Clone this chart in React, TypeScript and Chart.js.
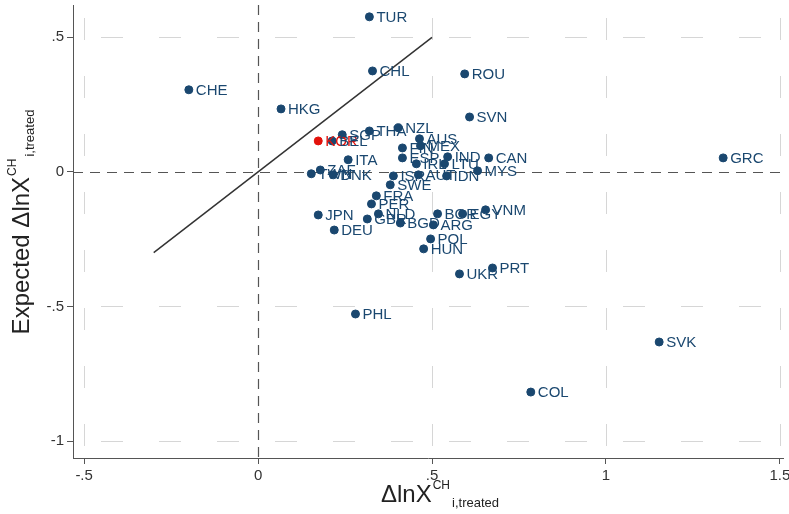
import { useEffect, useRef } from 'react';
import { Chart, registerables } from 'chart.js';

Chart.register(...registerables);

// Country codes with actual vs. expected change in log exports to China
const countries = [
  'TUR', 'CHL', 'ROU', 'CHE', 'HKG', 'SVN', 'THA', 'NZL', 'SGP', 'BEL',
  'ITA', 'ZAF', 'TWN', 'DNK', 'AUS', 'FIN', 'MEX', 'ESP', 'IRL', 'IND',
  'LTU', 'CAN', 'ISR', 'AUT', 'IDN', 'MYS', 'SWE', 'GRC', 'FRA', 'PER',
  'NLD', 'GBR', 'JPN', 'DEU', 'BGD', 'ARG', 'BGR', 'EGY', 'VNM', 'POL',
  'HUN', 'UKR', 'PRT', 'PHL', 'SVK', 'COL',
];
const actual = [
  0.320, 0.329, 0.594, -0.199, 0.066, 0.608, 0.320, 0.403, 0.242, 0.213,
  0.259, 0.179, 0.153, 0.216, 0.464, 0.415, 0.467, 0.415, 0.455, 0.545,
  0.536, 0.663, 0.389, 0.461, 0.542, 0.631, 0.380, 1.337, 0.340, 0.326,
  0.346, 0.314, 0.173, 0.219, 0.409, 0.504, 0.516, 0.588, 0.654, 0.496,
  0.476, 0.579, 0.674, 0.280, 1.153, 0.784,
];
const expected = [
  0.576, 0.375, 0.364, 0.305, 0.234, 0.204, 0.152, 0.164, 0.138, 0.115,
  0.045, 0.007, -0.007, -0.011, 0.123, 0.089, 0.097, 0.052, 0.030, 0.056,
  0.030, 0.052, -0.015, -0.011, -0.015, 0.004, -0.048, 0.052, -0.089, -0.119,
  -0.156, -0.175, -0.160, -0.216, -0.190, -0.197, -0.156, -0.156, -0.141, -0.249,
  -0.286, -0.379, -0.357, -0.528, -0.632, -0.818,
];

// Highlighted country
const treatedCountry = ['KOR'];
const treatedActual = [0.173];
const treatedExpected = [0.115];

// 45-degree reference segment
const diagonalRange = [-0.3, 0.5];

const xTicks = [-0.5, 0, 0.5, 1, 1.5];
const yTicks = [-1, -0.5, 0, 0.5];

const NAVY = '#1a476f';
const RED = '#e3120b';
const FONT = '"Liberation Sans", Arial, sans-serif';
const TITLE_SIZE = 24;
const SUP_SIZE = 12;
const SUB_SIZE = 13;

const fmt = (v: number) => {
  if (v === 0) return '0';
  const s = String(Math.abs(v)).replace(/^0\./, '.');
  return (v < 0 ? '-' : '') + s;
};

const gridPlugin = {
  id: 'stataGrid',
  beforeDatasetsDraw(chart: any) {
    const { ctx, chartArea, scales } = chart;
    const xs = scales.x;
    const ys = scales.y;
    ctx.save();
    ctx.lineWidth = 1;
    // light dotted grid
    ctx.strokeStyle = '#d6d6d6';
    ctx.setLineDash([22, 36]);
    xTicks.filter((v) => v !== 0).forEach((v) => {
      const px = Math.round(xs.getPixelForValue(v)) + 0.5;
      ctx.lineDashOffset = -12;
      ctx.beginPath();
      ctx.moveTo(px, chartArea.bottom);
      ctx.lineTo(px, chartArea.top);
      ctx.stroke();
    });
    yTicks.filter((v) => v !== 0).forEach((v) => {
      const py = Math.round(ys.getPixelForValue(v)) + 0.5;
      ctx.lineDashOffset = -28;
      ctx.beginPath();
      ctx.moveTo(chartArea.left, py);
      ctx.lineTo(chartArea.right, py);
      ctx.stroke();
    });
    // dashed zero lines
    ctx.strokeStyle = '#555';
    ctx.lineWidth = 1.2;
    ctx.setLineDash([10, 7]);
    ctx.lineDashOffset = 0;
    const x0 = Math.round(xs.getPixelForValue(0)) + 0.5;
    ctx.beginPath();
    ctx.moveTo(x0, chartArea.top);
    ctx.lineTo(x0, chartArea.bottom);
    ctx.stroke();
    const y0 = Math.round(ys.getPixelForValue(0)) + 0.5;
    ctx.beginPath();
    ctx.moveTo(chartArea.left, y0);
    ctx.lineTo(chartArea.right, y0);
    ctx.stroke();
    ctx.restore();
  },
};

const labelPlugin = {
  id: 'pointLabels',
  afterDatasetsDraw(chart: any) {
    const { ctx } = chart;
    ctx.save();
    ctx.font = `15px ${FONT}`;
    ctx.textBaseline = 'middle';
    ctx.textAlign = 'left';
    const draw = (dsIndex: number, names: string[], color: string) => {
      const meta = chart.getDatasetMeta(dsIndex);
      ctx.fillStyle = color;
      meta.data.forEach((el: any, i: number) => {
        ctx.fillText(names[i], el.x + 7, el.y + 1);
      });
    };
    draw(2, treatedCountry, RED);
    draw(1, countries, NAVY);
    ctx.restore();
  },
};

// widths of the pieces of "lead ΔlnX^CH_i,treated"
function measureTitle(ctx: CanvasRenderingContext2D, lead: string) {
  const main = `${lead}ΔlnX`;
  ctx.font = `${TITLE_SIZE}px ${FONT}`;
  const wMain = ctx.measureText(main).width;
  ctx.font = `${SUP_SIZE}px ${FONT}`;
  const wSup = ctx.measureText('CH').width;
  ctx.font = `${SUB_SIZE}px ${FONT}`;
  const wSub = ctx.measureText('i,treated').width;
  return { main, wMain, wSup, wSub, total: wMain + wSup + 3 + wSub };
}

const titlePlugin = {
  id: 'axisTitles',
  afterDraw(chart: any) {
    const { ctx } = chart;
    ctx.save();
    ctx.fillStyle = '#222';
    ctx.textBaseline = 'alphabetic';
    ctx.textAlign = 'left';

    const put = (lead: string) => {
      const m = measureTitle(ctx, lead);
      ctx.font = `${TITLE_SIZE}px ${FONT}`;
      ctx.fillText(m.main, 0, 0);
      ctx.font = `${SUP_SIZE}px ${FONT}`;
      ctx.fillText('CH', m.wMain + 1, -13);
      ctx.font = `${SUB_SIZE}px ${FONT}`;
      ctx.fillText('i,treated', m.wMain + m.wSup + 3, 5);
    };

    // x-axis title
    const mx = measureTitle(ctx, '');
    ctx.save();
    ctx.translate(440 - mx.total / 2, 502);
    put('');
    ctx.restore();

    // y-axis title
    const my = measureTitle(ctx, 'Expected ');
    ctx.save();
    ctx.translate(29, 222 + my.total / 2);
    ctx.rotate(-Math.PI / 2);
    put('Expected ');
    ctx.restore();

    ctx.restore();
  },
};

export default function App() {
  const canvasRef = useRef<HTMLCanvasElement | null>(null);

  useEffect(() => {
    document.body.style.margin = '0';
    const canvas = canvasRef.current;
    if (!canvas) return;

    const points = countries.map((_, i) => ({ x: actual[i], y: expected[i] }));
    const treated = treatedCountry.map((_, i) => ({ x: treatedActual[i], y: treatedExpected[i] }));

    const axisCommon = {
      border: { display: true, color: '#555', width: 1 },
      grid: { drawOnChartArea: false, drawTicks: true, tickLength: 6, color: '#555' },
      ticks: {
        color: '#333',
        font: { size: 15, family: FONT },
        padding: 3,
        autoSkip: false,
        maxRotation: 0,
        callback: (v: any) => fmt(Number(v)),
      },
    };

    const noPad = (s: any) => {
      s.paddingTop = 0;
      s.paddingBottom = 0;
      s.paddingLeft = 0;
      s.paddingRight = 0;
    };

    const chart = new Chart(canvas, {
      type: 'scatter',
      data: {
        datasets: [
          {
            type: 'line',
            data: diagonalRange.map((v) => ({ x: v, y: v })),
            borderColor: '#333',
            borderWidth: 1.5,
            pointRadius: 0,
            showLine: true,
            order: 3,
          } as any,
          {
            data: points,
            backgroundColor: NAVY,
            borderColor: NAVY,
            pointRadius: 4,
            order: 2,
          },
          {
            data: treated,
            backgroundColor: RED,
            borderColor: RED,
            pointRadius: 4,
            order: 1,
          },
        ],
      },
      options: {
        animation: false,
        responsive: false,
        layout: { padding: { top: 5, right: 6, left: 0, bottom: 0 } },
        plugins: { legend: { display: false }, tooltip: { enabled: false } },
        scales: {
          x: {
            type: 'linear',
            min: -0.532,
            max: 1.509,
            ...axisCommon,
            afterBuildTicks: (s: any) => { s.ticks = xTicks.map((v) => ({ value: v })); },
            afterFit: (s: any) => { s.height = 56; noPad(s); },
          },
          y: {
            type: 'linear',
            min: -1.063,
            max: 0.62,
            ...axisCommon,
            afterBuildTicks: (s: any) => { s.ticks = yTicks.map((v) => ({ value: v })); },
            afterFit: (s: any) => { s.width = 73; noPad(s); },
          },
        },
      },
      plugins: [gridPlugin, labelPlugin, titlePlugin],
    });

    return () => chart.destroy();
  }, []);

  return (
    <div style={{ position: 'absolute', left: 0, top: 0, width: 789, height: 514, background: '#fff' }}>
      <canvas ref={canvasRef} width={789} height={514} style={{ width: 789, height: 514 }} />
    </div>
  );
}
